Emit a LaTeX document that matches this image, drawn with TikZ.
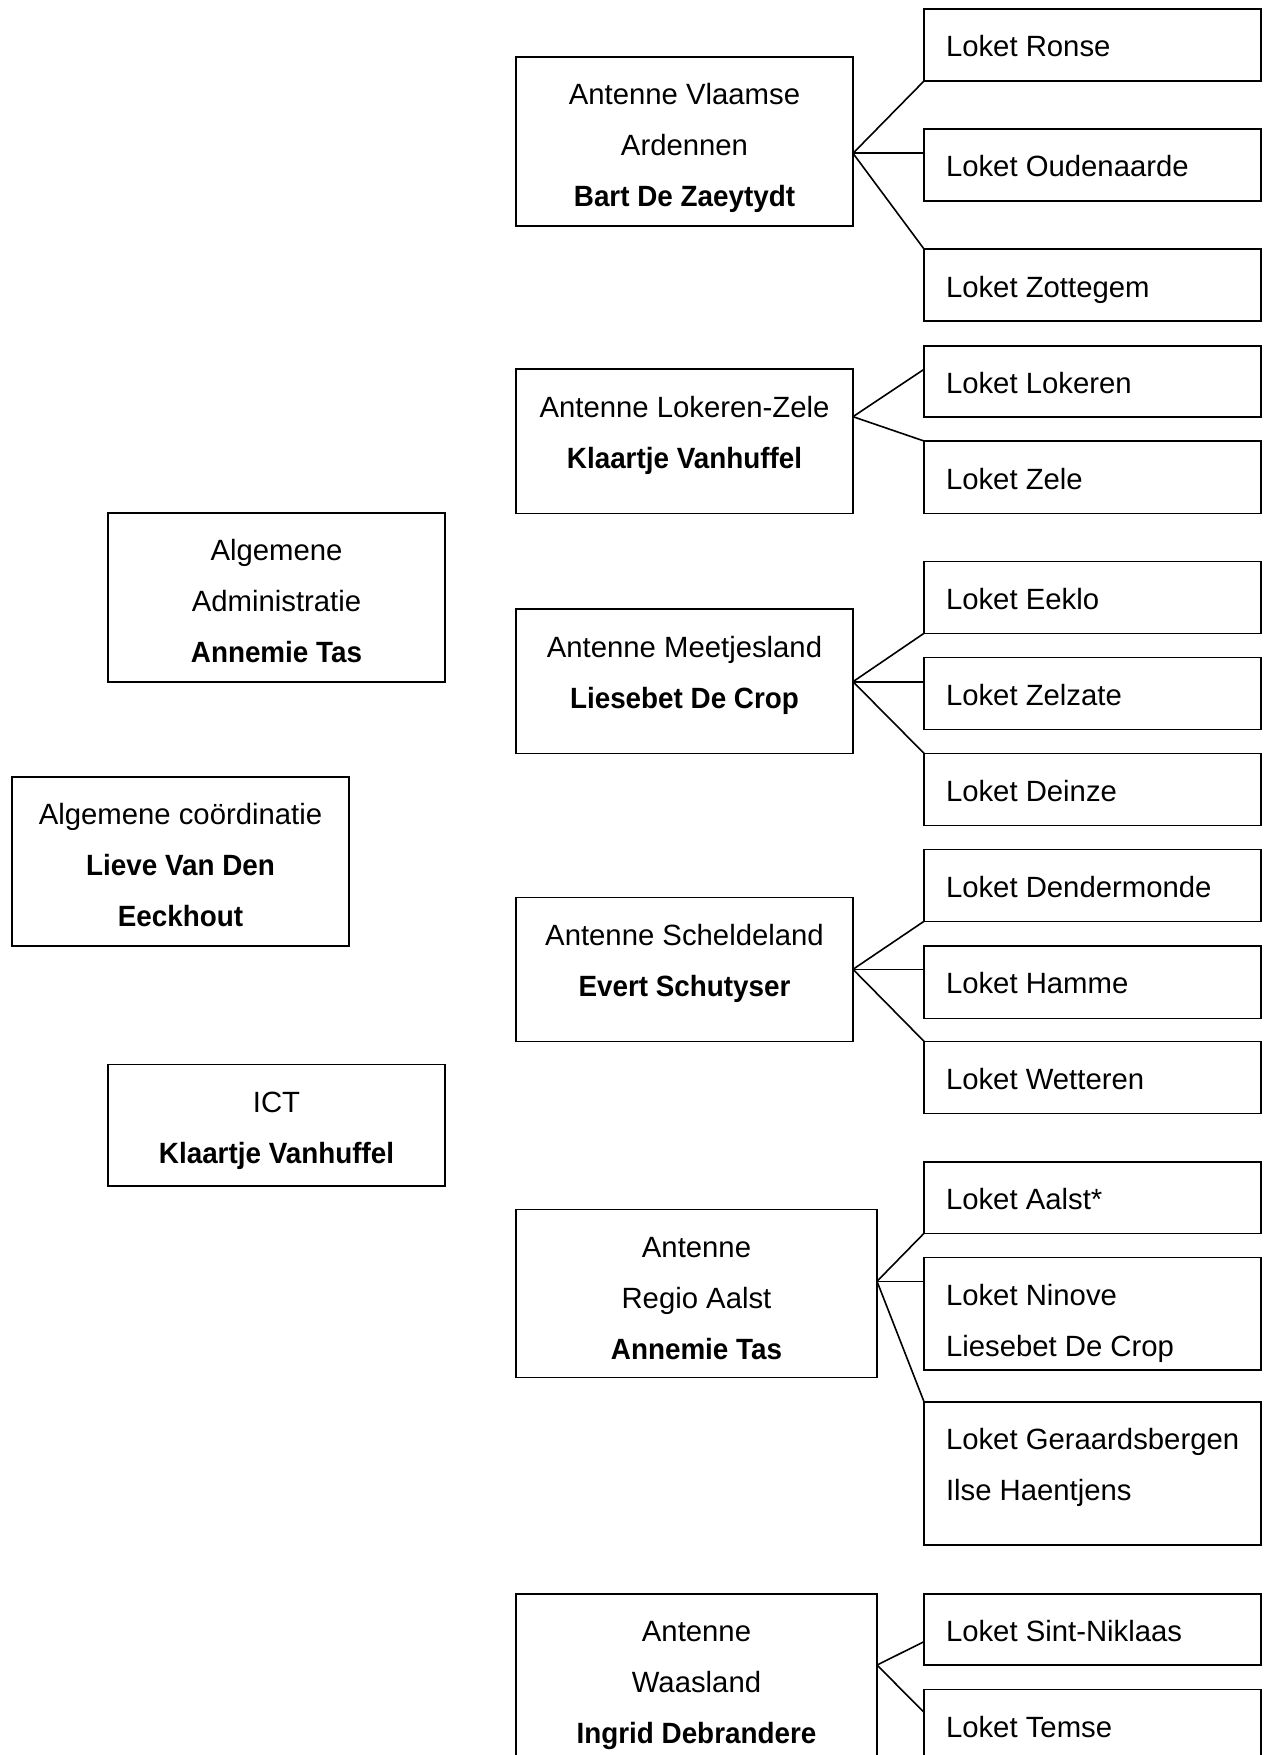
\documentclass[tikz,border=0pt]{standalone}
\usepackage{fontspec}
\setmainfont{Liberation Sans}[BoldFeatures={FakeStretch=0.95}]
\usetikzlibrary{calc}
\newcommand\mycbox[3]{\parbox[c][#2][t]{#1}{\centering\rule{0pt}{48pt}#3}}
\newcommand\mylbox[3]{\parbox[c][#2][t]{#1}{\raggedright\leftskip=22pt\relax\rule{0pt}{48pt}#3}}
\begin{document}
\begin{tikzpicture}[x=1pt,y=-1pt,
  box/.style={draw, line width=1.6pt, rectangle, inner sep=0pt, outer sep=0pt,
    anchor=north west, font=\fontsize{29.3}{51}\selectfont},
  conn/.style={line width=1.6pt}]
\clip (0,0) rectangle (1265,1755);
\fill[white] (0,0) rectangle (1265,1755);

% left column
\node[box] (aa) at (108,512.7) {\mycbox{337pt}{169pt}{Algemene\\Administratie\\\textbf{Annemie Tas}}};
\node[box] (co) at (12,776.7) {\mycbox{337pt}{169pt}{Algemene coördinatie\\\textbf{Lieve Van Den}\\\textbf{Eeckhout}}};
\node[box] (ict) at (108,1064.3) {\mycbox{337pt}{121.4pt}{ICT\\\textbf{Klaartje Vanhuffel}}};

% antennes
\node[box] (va) at (516,57) {\mycbox{337pt}{168.7pt}{Antenne Vlaamse\\Ardennen\\\textbf{Bart De Zaeytydt}}};
\node[box] (lz) at (516,369) {\mycbox{337pt}{144.3pt}{Antenne Lokeren-Zele\\\textbf{Klaartje Vanhuffel}}};
\node[box] (me) at (516,609) {\mycbox{337pt}{144.3pt}{Antenne Meetjesland\\\textbf{Liesebet De Crop}}};
\node[box] (sc) at (516,897.3) {\mycbox{337pt}{144pt}{Antenne Scheldeland\\\textbf{Evert Schutyser}}};
\node[box] (ra) at (516,1209.3) {\mycbox{361pt}{168pt}{Antenne\\Regio Aalst\\\textbf{Annemie Tas}}};
\node[box] (wa) at (516,1593.7) {\mycbox{361pt}{168pt}{Antenne\\Waasland\\\textbf{Ingrid Debrandere}}};

% loketten
\node[box] (ronse) at (924,9) {\mylbox{337pt}{72pt}{Loket Ronse}};
\node[box] (oud) at (924,129) {\mylbox{337pt}{72pt}{Loket Oudenaarde}};
\node[box] (zot) at (924,249) {\mylbox{337pt}{72pt}{Loket Zottegem}};
\node[box] (lok) at (924,345.7) {\mylbox{337pt}{71.3pt}{Loket Lokeren}};
\node[box] (zele) at (924,441) {\mylbox{337pt}{72.3pt}{Loket Zele}};
\node[box] (eeklo) at (924,561.3) {\mylbox{337pt}{72pt}{Loket Eeklo}};
\node[box] (zelz) at (924,657.3) {\mylbox{337pt}{72pt}{Loket Zelzate}};
\node[box] (dein) at (924,753.3) {\mylbox{337pt}{72pt}{Loket Deinze}};
\node[box] (dend) at (924,849.3) {\mylbox{337pt}{72pt}{Loket Dendermonde}};
\node[box] (hamme) at (924,945.7) {\mylbox{337pt}{72.6pt}{Loket Hamme}};
\node[box] (wett) at (924,1041.3) {\mylbox{337pt}{72pt}{Loket Wetteren}};
\node[box] (aalst) at (924,1161.7) {\mylbox{337pt}{71.6pt}{Loket Aalst*}};
\node[box] (ninove) at (924,1257.3) {\mylbox{337pt}{112.7pt}{Loket Ninove\\Liesebet De Crop}};
\node[box] (gera) at (924,1401.7) {\mylbox{337pt}{143.3pt}{Loket Geraardsbergen\\Ilse Haentjens}};
\node[box] (sn) at (924,1593.7) {\mylbox{337pt}{71.3pt}{Loket Sint-Niklaas}};
\node[box] (temse) at (924,1689.3) {\mylbox{337pt}{72pt}{Loket Temse}};

% connection points
\coordinate (vaC) at ($(va.north east)+(0,96.3)$);
\coordinate (lzC) at ($(lz.north east)+(0,47.7)$);
\coordinate (meC) at ($(me.north east)+(0,72.7)$);
\coordinate (scC) at ($(sc.north east)+(0,72)$);
\coordinate (raC) at ($(ra.north east)+(0,72)$);
\coordinate (waC) at ($(wa.north east)+(0,71.3)$);
\coordinate (lokP) at ($(lok.north west)+(0,23.6)$);
\coordinate (snP) at ($(sn.north west)+(0,48)$);
\coordinate (temP) at ($(temse.north west)+(0,23)$);

\draw[conn] (vaC) -- (ronse.south west);
\draw[conn] (vaC) -- (vaC -| oud.west);
\draw[conn] (vaC) -- (zot.north west);

\draw[conn] (lzC) -- (lokP);
\draw[conn] (lzC) -- (zele.north west);

\draw[conn] (meC) -- (eeklo.south west);
\draw[conn] (meC) -- (meC -| zelz.west);
\draw[conn] (meC) -- (dein.north west);

\draw[conn] (scC) -- (dend.south west);
\draw[conn] (scC) -- (scC -| hamme.west);
\draw[conn] (scC) -- (wett.north west);

\draw[conn] (raC) -- (aalst.south west);
\draw[conn] (raC) -- (raC -| ninove.west);
\draw[conn] (raC) -- (gera.north west);

\draw[conn] (waC) -- (snP);
\draw[conn] (waC) -- (temP);
\end{tikzpicture}
\end{document}
